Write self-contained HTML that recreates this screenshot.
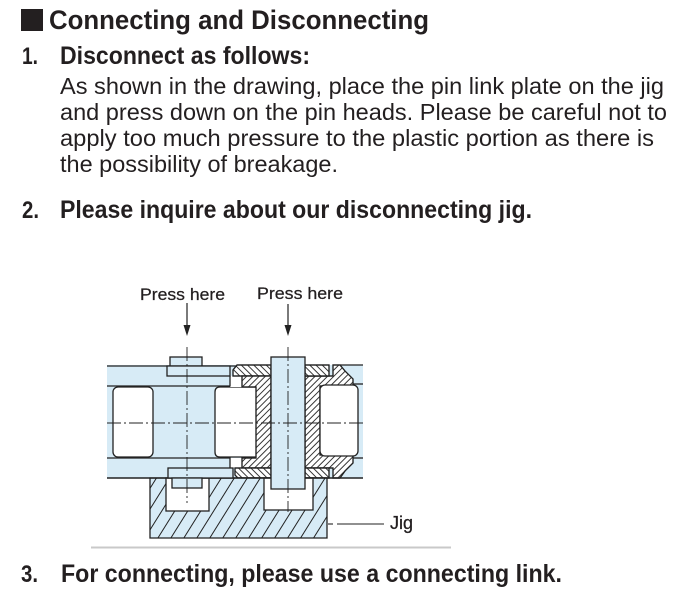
<!DOCTYPE html>
<html><head><meta charset="utf-8">
<style>
html,body{margin:0;padding:0;background:#fff;}
svg{display:block;}
text{font-family:"Liberation Sans",Arial,sans-serif;fill:#231f20;}
</style></head><body>
<svg width="679" height="600" viewBox="0 0 679 600" xmlns="http://www.w3.org/2000/svg">
<defs>
<pattern id="hs" width="4.4" height="4.4" patternUnits="userSpaceOnUse" patternTransform="rotate(45)"><line x1="0.5" y1="0" x2="0.5" y2="4.4" stroke="#222" stroke-width="0.9"/></pattern>
<pattern id="hb" width="4.4" height="4.4" patternUnits="userSpaceOnUse" patternTransform="rotate(-45)"><line x1="0.5" y1="0" x2="0.5" y2="4.4" stroke="#222" stroke-width="0.9"/></pattern>
<pattern id="hj" width="11" height="11" patternUnits="userSpaceOnUse" patternTransform="rotate(32)"><line x1="1" y1="0" x2="1" y2="11" stroke="#222" stroke-width="1"/></pattern>
</defs>

<!-- Title -->
<rect x="21" y="9" width="22" height="22" fill="#231f20"/>
<text x="49" y="29" font-size="27" font-weight="bold" textLength="380" lengthAdjust="spacingAndGlyphs">Connecting and Disconnecting</text>

<!-- Item 1 -->
<text x="22" y="64" font-size="24" font-weight="bold" textLength="16" lengthAdjust="spacingAndGlyphs">1.</text>
<text x="60" y="64" font-size="25" font-weight="bold" textLength="250" lengthAdjust="spacingAndGlyphs">Disconnect as follows:</text>
<text x="60" y="94" font-size="23" textLength="604" lengthAdjust="spacingAndGlyphs">As shown in the drawing, place the pin link plate on the jig</text>
<text x="60" y="120" font-size="23" textLength="607" lengthAdjust="spacingAndGlyphs">and press down on the pin heads. Please be careful not to</text>
<text x="60" y="146" font-size="23" textLength="594" lengthAdjust="spacingAndGlyphs">apply too much pressure to the plastic portion as there is</text>
<text x="60" y="172" font-size="23" textLength="278" lengthAdjust="spacingAndGlyphs">the possibility of breakage.</text>

<!-- Item 2 -->
<text x="22" y="218" font-size="24" font-weight="bold" textLength="17" lengthAdjust="spacingAndGlyphs">2.</text>
<text x="60" y="218" font-size="25" font-weight="bold" textLength="472" lengthAdjust="spacingAndGlyphs">Please inquire about our disconnecting jig.</text>

<!-- Diagram labels -->
<text x="140" y="300" font-size="17" textLength="85" lengthAdjust="spacingAndGlyphs" stroke="#231f20" stroke-width="0.25">Press here</text>
<text x="257" y="299" font-size="17" textLength="86" lengthAdjust="spacingAndGlyphs" stroke="#231f20" stroke-width="0.25">Press here</text>
<line x1="187" y1="303" x2="187" y2="328" stroke="#222" stroke-width="1.2"/>
<polygon points="183.5,325 190.5,325 187,336" fill="#222"/>
<line x1="288" y1="304" x2="288" y2="328" stroke="#222" stroke-width="1.2"/>
<polygon points="284.5,325 291.5,325 288,336" fill="#222"/>

<!-- Chain band -->
<rect x="107" y="365" width="256" height="113" fill="#d7ebf6"/>
<!-- rollers -->
<rect x="113" y="387" width="40" height="70" rx="5" fill="#fff" stroke="#222" stroke-width="1.3"/>
<path d="M256,387 H220 Q215,387 215,392 V452 Q215,457 220,457 H256" fill="#fff" stroke="#222" stroke-width="1.3"/>
<rect x="230" y="376" width="12" height="11" fill="#fff"/>
<rect x="230" y="458" width="12" height="10" fill="#fff"/>

<!-- plastic hatched pieces -->
<g stroke="#222" stroke-width="1.2">
<path d="M237,365 H271 V376 H233 V370 Z" fill="#fff"/>
<path d="M237,365 H271 V376 H233 V370 Z" fill="url(#hb)"/>
<path d="M242,376 H271 V468 H242 V458 H256 V387 H242 Z" fill="#fff"/>
<path d="M242,376 H271 V468 H242 V458 H256 V387 H242 Z" fill="url(#hs)"/>
<path d="M235,468 H271 V478 H238 L235,475 Z" fill="#fff"/>
<path d="M235,468 H271 V478 H238 L235,475 Z" fill="url(#hb)"/>
<path d="M305,376 H333 V365 H340 L345,371 L353,379 V386 H320 V455 H353 V463 L345,471 L340,478 H333 V468 H305 Z" fill="#fff"/>
<path d="M305,376 H333 V365 H340 L345,371 L353,379 V386 H320 V455 H353 V463 L345,471 L340,478 H333 V468 H305 Z" fill="url(#hs)"/>
<path d="M305,365 H329 V376 H305 Z" fill="#fff"/>
<path d="M305,365 H329 V376 H305 Z" fill="url(#hb)"/>
<path d="M305,468 H329 V478 H305 Z" fill="#fff"/>
<path d="M305,468 H329 V478 H305 Z" fill="url(#hb)"/>
</g>
<rect x="320" y="385" width="38" height="71" rx="5" fill="#fff" stroke="#222" stroke-width="1.3"/>

<!-- plate lines -->
<g fill="none" stroke="#222" stroke-width="1.3">
<path d="M107,366 H237"/>
<path d="M107,386 H230 V376"/>
<path d="M107,458 H230 V468"/>
<path d="M340,365 H363"/>
<path d="M353,384 H363"/>
<path d="M353,458 H363"/>
</g>

<!-- Jig -->
<path d="M150,478 V538 H327 V478 Z" fill="#d7ebf6"/>
<path d="M150,478 V538 H327 V478 Z" fill="url(#hj)" stroke="#222" stroke-width="1.3"/>
<rect x="166" y="478" width="43" height="33" fill="#fff" stroke="#222" stroke-width="1.3"/>
<rect x="264" y="478" width="49" height="32" fill="#fff" stroke="#222" stroke-width="1.3"/>
<line x1="107" y1="478" x2="363" y2="478" stroke="#222" stroke-width="1.4"/>

<!-- pin 1 -->
<rect x="170" y="357" width="32" height="9" fill="#d7ebf6" stroke="#222" stroke-width="1.3"/>
<rect x="167" y="366" width="63" height="10" fill="#d7ebf6" stroke="#222" stroke-width="1.3"/>
<rect x="168" y="468" width="65" height="10" fill="#d7ebf6" stroke="#222" stroke-width="1.3"/>
<rect x="172" y="478" width="30" height="10" fill="#d7ebf6" stroke="#222" stroke-width="1.3"/>
<!-- pin 2 -->
<rect x="271" y="357" width="34" height="132" fill="#d7ebf6" stroke="#222" stroke-width="1.3"/>

<!-- center lines -->
<g stroke="#222" stroke-width="0.9" stroke-dasharray="14 3 2 3">
<line x1="187" y1="347" x2="187" y2="503"/>
<line x1="288" y1="347" x2="288" y2="512"/>
<line x1="107" y1="423" x2="365" y2="423"/>
</g>

<!-- Jig label -->
<line x1="328" y1="524" x2="333" y2="524" stroke="#222" stroke-width="1.1"/>
<line x1="337" y1="524" x2="384" y2="524" stroke="#222" stroke-width="1.1"/>
<text x="390" y="529" font-size="18" textLength="23" lengthAdjust="spacingAndGlyphs" stroke="#231f20" stroke-width="0.3">Jig</text>

<!-- separator -->
<line x1="91" y1="547.5" x2="451" y2="547.5" stroke="#c9c9c9" stroke-width="2"/>

<!-- Item 3 -->
<text x="21" y="582" font-size="24" font-weight="bold" textLength="17" lengthAdjust="spacingAndGlyphs">3.</text>
<text x="61" y="582" font-size="25" font-weight="bold" textLength="501" lengthAdjust="spacingAndGlyphs">For connecting, please use a connecting link.</text>
</svg>
</body></html>
